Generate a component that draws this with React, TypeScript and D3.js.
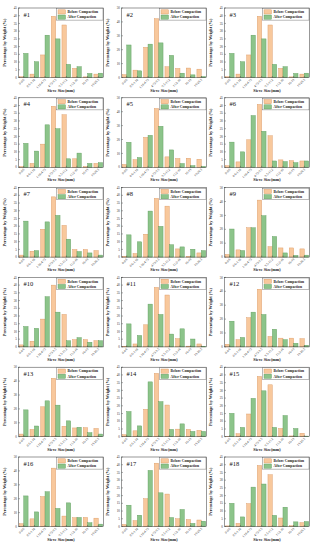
import React from "react";
import * as d3 from "d3";

// sieve size classes (x axis)
const categories = ["0-0.6", "0.6-1.18", "1.18-4.75", "4.75-9.5", "9.5-13.2", "13.2-16", "16-19", "19-26.5"];

const panelNames = ["#1", "#2", "#3", "#4", "#5", "#6", "#7", "#8", "#9", "#10", "#11", "#12", "#13", "#14", "#15", "#16", "#17", "#18"];

// y axis top for each panel
const yMax = [45, 50, 45, 45, 50, 45, 45, 45, 50, 45, 45, 50, 50, 45, 45, 50, 45, 45];

// percentage by weight before compaction
const before = [
  [0.5, 2.2, 14.6, 39.6, 34, 5.9, 0.4, 2.2],
  [2, 5.3, 21.7, 42.3, 7.7, 6.5, 6.8, 6],
  [0.5, 2.2, 14.6, 39.6, 34, 5.9, 0.4, 2.2],
  [0.5, 2.5, 15, 39.5, 34, 5.5, 0.5, 2.5],
  [2, 5.5, 21.5, 42.3, 7.5, 6.3, 6.5, 5.8],
  [1, 3.5, 17.8, 40.7, 20.4, 4.8, 4.3, 4.1],
  [1.3, 3.8, 18, 39, 20.5, 4.9, 4.9, 4.2],
  [0.5, 2.3, 14.8, 38, 33, 5.3, 0.5, 2.7],
  [1.9, 5.2, 21.1, 41, 7.5, 6.6, 6.6, 5.9],
  [1.3, 3.7, 18, 40, 21, 4.7, 4.7, 4],
  [0.3, 1.9, 14.3, 38.5, 33.6, 5.3, 0.5, 1.9],
  [1.9, 5.2, 21, 41.5, 7.5, 6.3, 6.3, 5.9],
  [1.9, 5.2, 21.5, 42, 7.5, 6.3, 6.5, 5.9],
  [1.3, 3.8, 17.7, 41, 20.5, 4.9, 4.7, 4.1],
  [0.3, 1.9, 14.7, 39, 33.6, 5.3, 0.5, 2.2],
  [2, 5.5, 21.5, 42, 7.5, 6.3, 6.5, 6],
  [1.3, 3.8, 18, 41, 21, 5, 4.5, 4.2],
  [0.4, 2, 14.8, 39.5, 33.5, 5.5, 0.5, 2.5],
];

// percentage by weight after compaction
const after = [
  [15.6, 10.2, 27.4, 25, 8.5, 7, 2.6, 2.8],
  [23.4, 4.8, 24, 24.9, 15.9, 3.1, 1.9, 0.7],
  [15.6, 10.2, 27.4, 25, 8.5, 7, 2.6, 2.8],
  [15.5, 10.5, 27.5, 25, 5.5, 9.2, 2.5, 3],
  [18, 7, 23, 29.5, 12.5, 2.7, 1.2, 0.7],
  [16.3, 10, 33.5, 23.3, 4.1, 3.7, 3, 4.1],
  [23.3, 4.2, 22.8, 27, 11.6, 3.6, 2.7, 1.3],
  [14.4, 9.9, 29.8, 19.9, 8, 6.6, 5.1, 4.2],
  [20.2, 4.7, 21.1, 29.8, 14.8, 3, 1.2, 1.4],
  [13.2, 12, 32.5, 22.5, 4, 6, 3, 4],
  [14.9, 7.4, 27.7, 21, 8.3, 11.7, 5.1, 0.4],
  [18.5, 6.8, 25, 23.3, 12.7, 5.2, 2.6, 1.2],
  [19.3, 7.7, 25.8, 22.7, 11.4, 6.8, 2.9, 1.9],
  [16.3, 7, 35.5, 22.7, 4.7, 8.3, 3.4, 3.4],
  [15.1, 6, 24.8, 29.7, 6, 13.7, 5.3, 0.4],
  [22, 10.5, 25, 13, 17, 6.5, 2.7, 1.7],
  [13.8, 7.3, 36.3, 21.8, 5.8, 11, 2, 3.4],
  [15, 6.2, 25.5, 27.5, 7.2, 12.5, 3, 3.2],
];

const seriesNames = ["Before Compaction", "After Compaction"];
const fills = ["#f8c89c", "#8cc48a"];
const strokes = ["#d9955c", "#5a9a58"];

const colW = 103;
const rowH = 89.8;
const plotL = 18.5;
const plotT = 8;
const plotW = 85;
const plotH = 69.5;

function Panel({ idx }: { idx: number }) {
  const col = idx % 3;
  const row = Math.floor(idx / 3);
  const x0 = d3.scaleBand<string>().domain(categories).range([0, plotW]).paddingInner(0.18).paddingOuter(0.08);
  const x1 = d3.scaleBand<string>().domain(seriesNames).range([0, x0.bandwidth()]);
  const y = d3.scaleLinear().domain([0, yMax[idx]]).range([plotH, 0]);
  const step = yMax[idx] === 50 ? 10 : 5;
  const ticks = d3.range(0, yMax[idx] + 0.1, step);
  const series = [before[idx], after[idx]];

  return (
    <g transform={`translate(${col * colW},${row * rowH})`}>
      <text
        transform={`translate(6,${plotT + plotH / 2}) rotate(-90)`}
        textAnchor="middle"
        fontSize={4.3}
        fontWeight="bold"
        fill="#222"
      >
        Percentage by Weight (%)
      </text>
      <g transform={`translate(${plotL},${plotT})`}>
        {series.map((vals, s) =>
          vals.map((v, i) => (
            <rect
              key={`${s}-${i}`}
              x={(x0(categories[i]) ?? 0) + (x1(seriesNames[s]) ?? 0)}
              y={y(v)}
              width={x1.bandwidth()}
              height={plotH - y(v)}
              fill={fills[s]}
              stroke={strokes[s]}
              strokeWidth={0.4}
            />
          ))
        )}
        <rect x={0} y={0} width={plotW} height={plotH} fill="none" stroke="#333" strokeWidth={0.5} />
        {ticks.map((t) => (
          <g key={t} transform={`translate(0,${y(t)})`}>
            <line x1={0} x2={1.5} stroke="#333" strokeWidth={0.4} />
            <text x={-1.5} dy="0.35em" textAnchor="end" fontSize={3.3} fill="#333">
              {t}
            </text>
          </g>
        ))}
        {categories.map((c) => {
          const cx = (x0(c) ?? 0) + x0.bandwidth() / 2;
          return (
            <g key={c} transform={`translate(${cx},${plotH})`}>
              <line y1={0} y2={-1.5} stroke="#333" strokeWidth={0.4} />
              <text transform="translate(1,2.5) rotate(-45)" textAnchor="end" fontSize={3.2} fill="#333">
                {c}
              </text>
            </g>
          );
        })}
        <text x={5} y={8.5} fontSize={6.5} fill="#111">
          {panelNames[idx]}
        </text>
        <g transform={`translate(${plotW - 47},0.6)`}>
          <rect x={0} y={0} width={46.5} height={11.5} fill="#fff" stroke="#555" strokeWidth={0.4} />
          {seriesNames.map((n, s) => (
            <g key={n} transform={`translate(1.5,${1.2 + s * 5.2})`}>
              <rect width={7.5} height={4.2} fill={fills[s]} stroke={strokes[s]} strokeWidth={0.4} />
              <text x={9.5} y={3.4} fontSize={3.7} fontWeight="bold" fill="#222">
                {n}
              </text>
            </g>
          ))}
        </g>
      </g>
      <text x={plotL + plotW / 2} y={plotT + plotH + 14} textAnchor="middle" fontSize={4.2} fontWeight="bold" fill="#222">
        Sieve Size(mm)
      </text>
    </g>
  );
}

export default function App() {
  return (
    <svg
      width={316}
      height={550}
      style={{ position: "absolute", left: 0, top: 0, background: "#fff" }}
      fontFamily="'Liberation Serif', 'Times New Roman', serif"
    >
      {panelNames.map((_, i) => (
        <Panel key={i} idx={i} />
      ))}
    </svg>
  );
}
